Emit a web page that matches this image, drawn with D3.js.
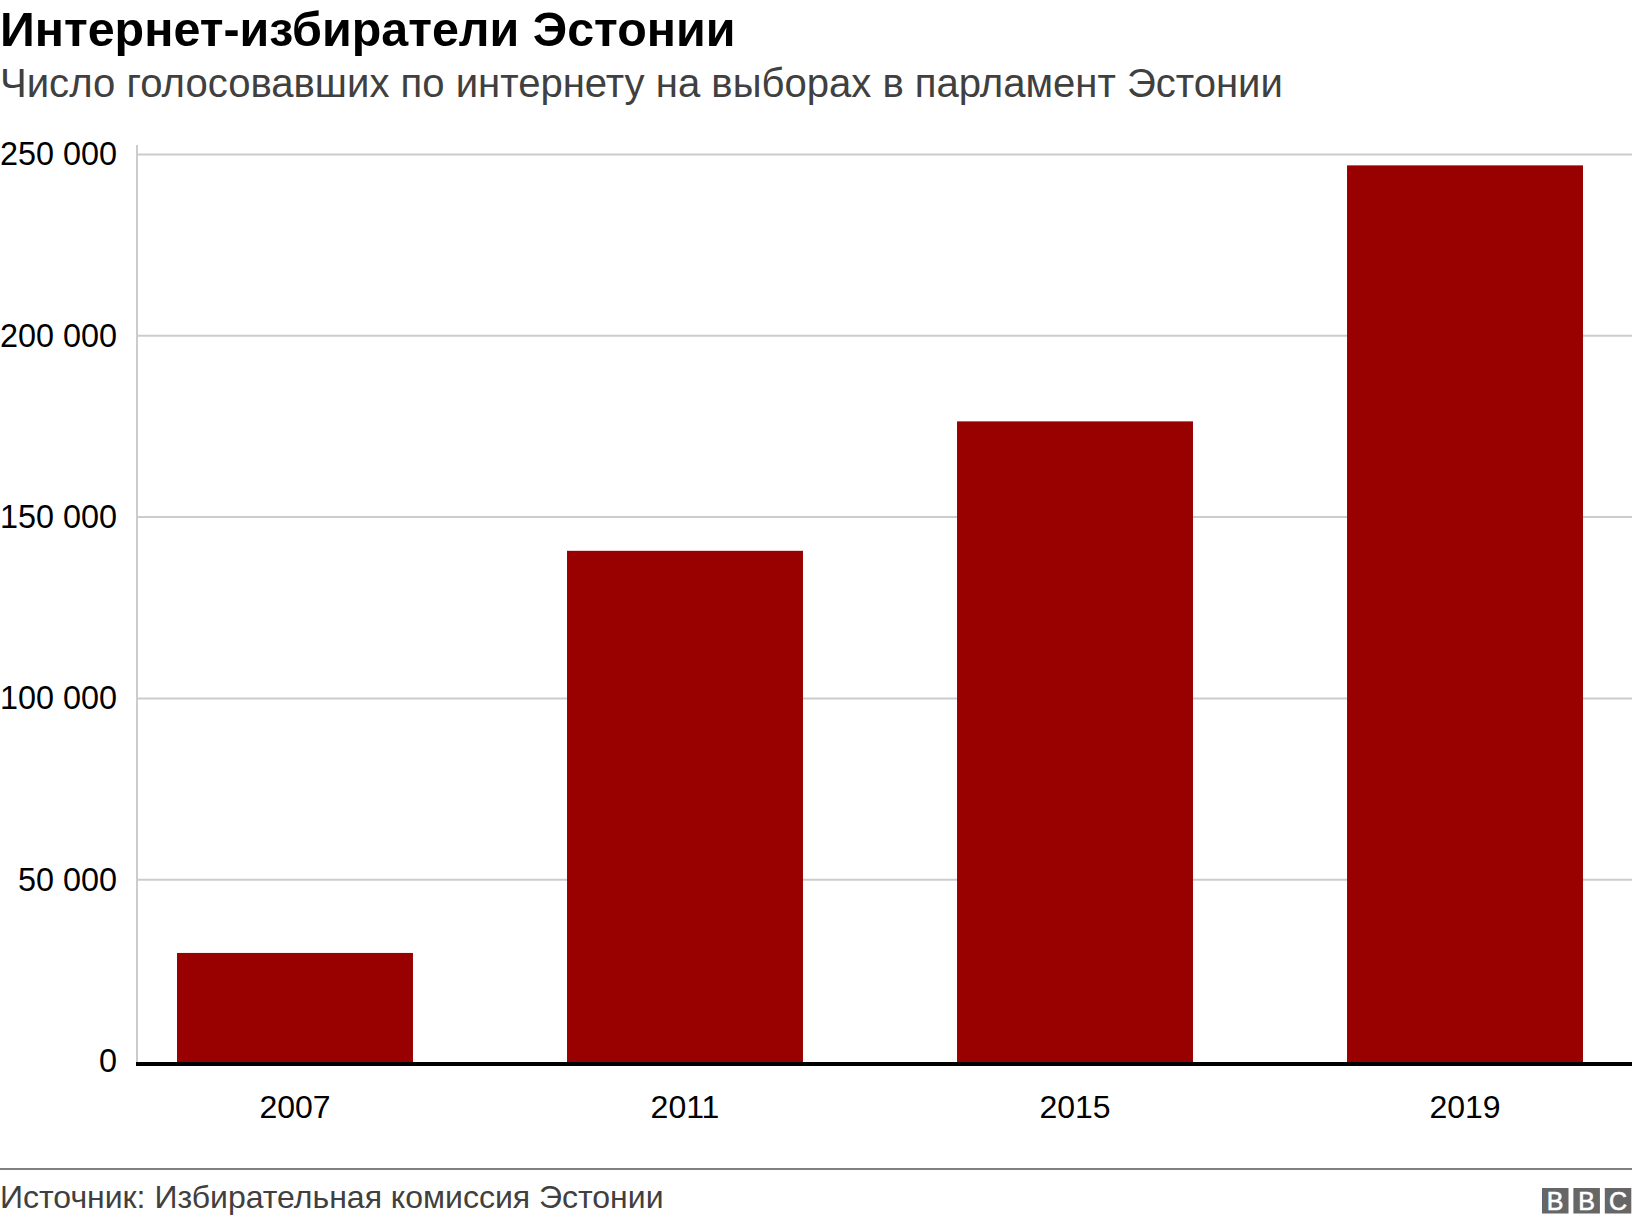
<!DOCTYPE html>
<html>
<head>
<meta charset="utf-8">
<script src="https://cdn.jsdelivr.net/npm/d3@7"></script>
<style>
  body { margin: 0; background: #fff; }
  text { font-family: "Liberation Sans", Arial, sans-serif; }
</style>
</head>
<body>
<script>
var categories = ["2007", "2011", "2015", "2019"];
var voters = [29800, 140700, 176400, 247000];
var yTicks = [0, 50000, 100000, 150000, 200000, 250000];
var logoLetters = ["B", "B", "C"];

var width = 1632,
    height = 1224;

var svg = d3.select("body").append("svg")
    .attr("width", width)
    .attr("height", height)
    .style("display", "block");

var x = d3.scaleBand()
    .domain(categories)
    .range([137, 1623])
    .paddingInner(0.395)
    .paddingOuter(0.1026);

var y = d3.scaleLinear()
    .domain([0, 250000])
    .range([1061, 154.5]);

var spaced = d3.formatLocale({decimal: ",", thousands: " ", grouping: [3], currency: ["", ""]}).format(",d");

// headings
svg.append("text")
    .attr("x", 0).attr("y", 46)
    .attr("font-size", 48.4).attr("font-weight", "bold").attr("fill", "#000")
    .text("Интернет-избиратели Эстонии");

svg.append("text")
    .attr("x", 0).attr("y", 97)
    .attr("font-size", 40.1).attr("fill", "#404040")
    .text("Число голосовавших по интернету на выборах в парламент Эстонии");

// y axis with gridlines
var yAxis = svg.append("g")
    .attr("transform", "translate(137,0)")
    .call(d3.axisLeft(y).tickValues(yTicks).tickFormat(spaced).tickSize(0).tickPadding(20));

yAxis.select(".domain").remove();
yAxis.selectAll("text")
    .attr("font-size", 32.4).attr("fill", "#000")
    .style("font-family", "'Liberation Sans', Arial, sans-serif");

svg.append("g").selectAll("line")
    .data(yTicks.filter(function(d) { return d > 0; }))
  .enter().append("line")
    .attr("x1", 137).attr("x2", width)
    .attr("y1", function(d) { return y(d); })
    .attr("y2", function(d) { return y(d); })
    .attr("stroke", "#cccccc").attr("stroke-width", 2);

svg.append("line")
    .attr("x1", 137).attr("x2", 137)
    .attr("y1", 145).attr("y2", 1062)
    .attr("stroke", "#cccccc").attr("stroke-width", 2);

// bars, run a little past zero so they meet the thick axis line
svg.append("g").selectAll("rect")
    .data(voters)
  .enter().append("rect")
    .attr("x", function(d, i) { return x(categories[i]); })
    .attr("y", function(d) { return y(d); })
    .attr("width", x.bandwidth())
    .attr("height", function(d) { return y(0) - y(d) + 2; })
    .attr("fill", "#990000");

// x axis
var xAxis = svg.append("g")
    .attr("transform", "translate(0,1064)")
    .call(d3.axisBottom(x).tickSize(0).tickPadding(31));

xAxis.select(".domain").remove();
xAxis.selectAll("text")
    .attr("font-size", 32).attr("fill", "#000")
    .style("font-family", "'Liberation Sans', Arial, sans-serif");

svg.append("line")
    .attr("x1", 136).attr("x2", width)
    .attr("y1", 1064).attr("y2", 1064)
    .attr("stroke", "#000").attr("stroke-width", 4);

// footer
svg.append("line")
    .attr("x1", 0).attr("x2", width)
    .attr("y1", 1169).attr("y2", 1169)
    .attr("stroke", "#808080").attr("stroke-width", 2);

svg.append("text")
    .attr("x", 0).attr("y", 1208)
    .attr("font-size", 32).attr("fill", "#404040")
    .text("Источник: Избирательная комиссия Эстонии");

var logo = svg.append("g").selectAll("g")
    .data(logoLetters)
  .enter().append("g")
    .attr("transform", function(d, i) { return "translate(" + (1542 + i * 31.4) + ",1188)"; });

logo.append("rect")
    .attr("width", 26.5).attr("height", 25.5)
    .attr("fill", "#666666");

logo.append("text")
    .attr("x", 13.2).attr("y", 21.5)
    .attr("text-anchor", "middle")
    .attr("font-size", 25).attr("fill", "#fff")
    .attr("stroke", "#fff").attr("stroke-width", 0.6)
    .text(function(d) { return d; });
</script>
</body>
</html>
